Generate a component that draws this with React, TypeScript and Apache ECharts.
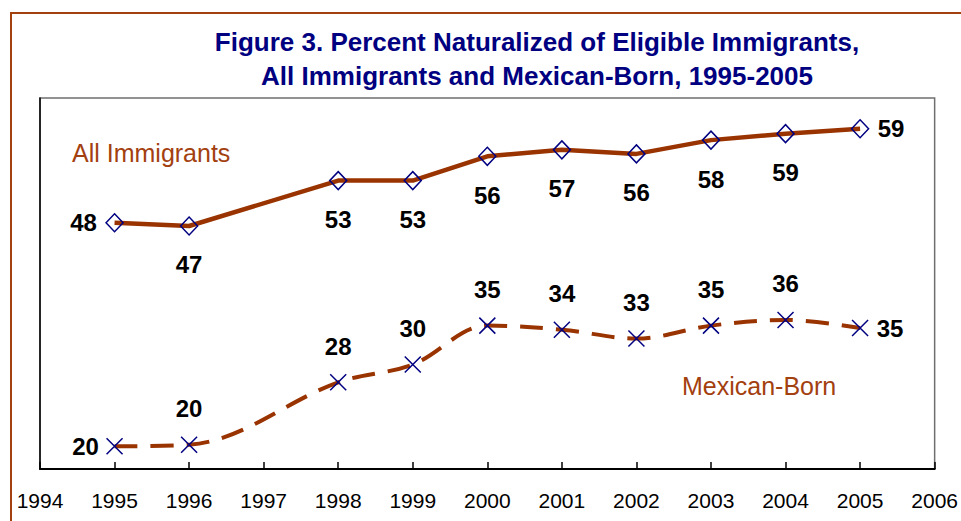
import React, { useEffect, useRef } from "react";
import * as echarts from "echarts";

// ---- data ----
const years = [1995, 1996, 1998, 1999, 2000, 2001, 2002, 2003, 2004, 2005];
const allImmigrants = [47.6, 47.2, 52.8, 52.8, 55.8, 56.6, 56.1, 57.8, 58.6, 59.2];
const mexicanBorn = [20.0, 20.2, 27.9, 30.1, 34.9, 34.4, 33.3, 34.9, 35.6, 34.6];
const axisYearMin = 1994;
const axisYearMax = 2006;
const titleLines = [
  "Figure 3. Percent Naturalized of Eligible Immigrants,",
  "All Immigrants and Mexican-Born, 1995-2005",
];
const seriesNames = ["All Immigrants", "Mexican-Born"];

const FONT = '"Liberation Sans", Arial, Helvetica, sans-serif';
const BROWN = "#993300";
const BROWN_TEXT = "#A3400F";
const NAVY = "#000080";

function buildData(values: number[], midOffset: number, leftOff: number, rightOff: number) {
  return years.map((yr, i) => {
    let offset: number[];
    if (i === 0) offset = [leftOff, 0];
    else if (i === years.length - 1) offset = [rightOff, 0];
    else offset = [0, midOffset];
    return { value: [yr, values[i]], label: { offset } };
  });
}

const labelCommon = {
  show: true,
  position: "inside",
  formatter: (p: any) => String(Math.round(p.value[1])),
  fontSize: 24,
  fontWeight: "bold",
  fontFamily: FONT,
  color: "#000",
};

export default function App() {
  const ref = useRef<HTMLDivElement>(null);
  useEffect(() => {
    if (!ref.current) return;
    const chart = echarts.init(ref.current, null, { renderer: "svg" });
    const option: any = {
      animation: false,
      backgroundColor: "#fff",
      grid: {
        left: 40,
        top: 98,
        width: 896,
        height: 371,
        show: true,
        borderColor: "#6f6f6f",
        borderWidth: 1.5,
        backgroundColor: "transparent",
      },
      xAxis: {
        type: "value",
        min: axisYearMin,
        max: axisYearMax,
        interval: 1,
        axisLine: { show: true, lineStyle: { color: "#000", width: 2 } },
        axisTick: { show: true, inside: true, length: 7, lineStyle: { color: "#000", width: 1.5 } },
        splitLine: { show: false },
        axisLabel: {
          show: true,
          margin: 21,
          fontSize: 21,
          fontFamily: FONT,
          color: "#000",
          formatter: (v: number) => String(v),
          showMinLabel: true,
          showMaxLabel: true,
        },
      },
      yAxis: {
        type: "value",
        min: 17.2,
        max: 63,
        axisLine: { show: true, lineStyle: { color: "#000", width: 1.5 } },
        axisTick: { show: false },
        axisLabel: { show: false },
        splitLine: { show: false },
      },
      graphic: [
        {
          type: "rect",
          shape: { x: 11, y: 13, width: 1000, height: 600 },
          style: { fill: "none", stroke: BROWN_TEXT, lineWidth: 2 },
          silent: true,
        },
        {
          type: "text",
          x: 537,
          y: 42,
          style: {
            text: titleLines[0],
            font: `bold 26px ${FONT}`,
            fill: NAVY,
            align: "center",
            verticalAlign: "middle",
            textAlign: "center",
            textVerticalAlign: "middle",
          },
        },
        {
          type: "text",
          x: 537,
          y: 76,
          style: {
            text: titleLines[1],
            font: `bold 26px ${FONT}`,
            fill: NAVY,
            align: "center",
            verticalAlign: "middle",
            textAlign: "center",
            textVerticalAlign: "middle",
          },
        },
        {
          type: "text",
          x: 72,
          y: 153,
          style: {
            text: seriesNames[0],
            font: `25px ${FONT}`,
            fill: BROWN_TEXT,
            align: "left",
            verticalAlign: "middle",
            textAlign: "left",
            textVerticalAlign: "middle",
          },
        },
        {
          type: "text",
          x: 682,
          y: 386,
          style: {
            text: seriesNames[1],
            font: `25px ${FONT}`,
            fill: BROWN_TEXT,
            align: "left",
            verticalAlign: "middle",
            textAlign: "left",
            textVerticalAlign: "middle",
          },
        },
      ],
      series: [
        {
          name: seriesNames[0],
          type: "line",
          data: buildData(allImmigrants, 39, -31, 31),
          smooth: false,
          symbol: "diamond",
          symbolSize: [17, 18],
          lineStyle: { color: BROWN, width: 4.5 },
          itemStyle: { color: "rgba(0,0,0,0)", borderColor: NAVY, borderWidth: 1.5 },
          label: labelCommon,
          emphasis: { disabled: true },
          z: 3,
        },
        {
          name: seriesNames[1],
          type: "line",
          data: buildData(mexicanBorn, -36, -29, 30),
          smooth: 0.35,
          symbol: "path://M0,0L16,16M0,16L16,0",
          symbolSize: 16,
          lineStyle: { color: BROWN, width: 4, type: [23, 13] },
          itemStyle: { color: "rgba(0,0,0,0)", borderColor: NAVY, borderWidth: 1.5 },
          label: labelCommon,
          emphasis: { disabled: true },
          z: 3,
        },
      ],
    };
    chart.setOption(option);
    return () => chart.dispose();
  }, []);
  return (
    <div
      ref={ref}
      style={{ position: "absolute", left: 0, top: 0, width: 961, height: 521 }}
    />
  );
}
